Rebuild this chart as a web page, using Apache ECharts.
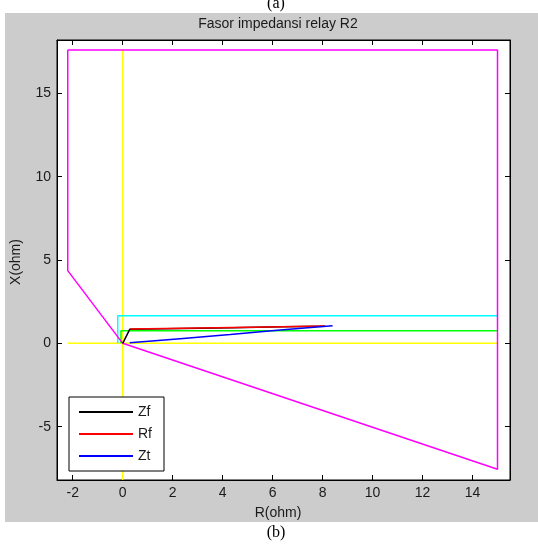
<!DOCTYPE html>
<html>
<head>
<meta charset="utf-8">
<script src="https://cdn.jsdelivr.net/npm/echarts@6/dist/echarts.min.js"></script>
<style>
  html, body { margin: 0; padding: 0; background: #fff; }
  #frame { position: absolute; left: 5px; top: 13px; width: 533px; height: 509px; background: #cccccc; }
  #chart { position: absolute; left: 0; top: 0; width: 538px; height: 545px; }
</style>
</head>
<body>
<div id="frame"></div>
<div id="chart"></div>
<script>
// axis ticks
var xTicks = [-2, 0, 2, 4, 6, 8, 10, 12, 14];
var yTicks = [-5, 0, 5, 10, 15];

// relay zone (magenta)
var relayZone = [[-2.2, 17.6], [15, 17.6], [15, -7.55], [0, 0], [-2.2, 4.36], [-2.2, 17.6]];
// reference axes (yellow)
var axisR = [[-2.2, 0], [15, 0]];
var axisX = [[0, 17.6], [0, -8.2]];
// other boundaries
var cyanZone = [[-0.2, 0], [-0.2, 1.66], [15, 1.66]];
var greenZone = [[-0.07, 0], [-0.07, 0.76], [15, 0.76]];

// impedance traces
var zf = [[0, 0], [0.28, 0.84], [2.4, 0.89], [4.4, 0.94], [6.4, 0.99], [8.1, 1.03]];
var rf = [[0.3, 0.86], [2.4, 0.9], [4.4, 0.95], [6.4, 1.0], [8.1, 1.04]];
var zt = [[0.28, 0.03], [2.3, 0.28], [4.3, 0.53], [6.3, 0.8], [8.4, 1.05]];

var chart = echarts.init(document.getElementById('chart'));

function lineSeries(name, data, color) {
  return {
    name: name,
    type: 'line',
    data: data,
    symbol: 'none',
    silent: true,
    animation: false,
    lineStyle: { color: color, width: 1.5 },
    itemStyle: { color: color }
  };
}

var font = 'Liberation Sans, Arial, sans-serif';
var txt = '#1a1a1a';
var tickStyle = { inside: true, length: 5, lineStyle: { color: '#000' } };

function xAxisOf(pos, showLabel) {
  return {
    type: 'value',
    position: pos,
    min: -2.63,
    max: 15.5,
    axisLine: { show: true, onZero: false, lineStyle: { color: '#000', width: 1 } },
    axisTick: Object.assign({ customValues: xTicks }, tickStyle),
    axisLabel: { show: showLabel, customValues: xTicks, color: txt, fontSize: 14, fontFamily: font, margin: 6 },
    splitLine: { show: false }
  };
}
function yAxisOf(pos, showLabel) {
  return {
    type: 'value',
    position: pos,
    min: -8.2,
    max: 18.2,
    axisLine: { show: true, onZero: false, lineStyle: { color: '#000', width: 1 } },
    axisTick: Object.assign({ customValues: yTicks }, tickStyle),
    axisLabel: { show: showLabel, customValues: yTicks, color: txt, fontSize: 14, fontFamily: font, margin: 6 },
    splitLine: { show: false }
  };
}

chart.setOption({
  backgroundColor: 'transparent',
  animation: false,
  grid: {
    left: 57, top: 40, right: 28, bottom: 65,
    show: true, backgroundColor: '#fff', borderColor: '#000', borderWidth: 1
  },
  xAxis: [xAxisOf('bottom', true), xAxisOf('top', false)],
  yAxis: [yAxisOf('left', true), yAxisOf('right', false)],
  legend: {
    data: ['Zf', 'Rf', 'Zt'],
    orient: 'vertical',
    left: 69,
    top: 397,
    padding: [7, 12, 7, 10],
    itemGap: 6,
    itemWidth: 54,
    itemHeight: 2,
    icon: 'rect',
    backgroundColor: '#fff',
    borderColor: '#000',
    borderWidth: 1,
    selectedMode: false,
    textStyle: { color: txt, fontSize: 14, fontFamily: font, lineHeight: 16 }
  },
  graphic: [
    { type: 'text', x: 278, y: 24, style: { text: 'Fasor impedansi relay R2', align: 'center', verticalAlign: 'middle', fill: txt, font: '14px ' + font } },
    { type: 'text', x: 278, y: 513, style: { text: 'R(ohm)', align: 'center', verticalAlign: 'middle', fill: txt, font: '14px ' + font } },
    { type: 'text', x: 16, y: 262, rotation: Math.PI / 2, style: { text: 'X(ohm)', align: 'center', verticalAlign: 'middle', fill: txt, font: '14px ' + font } },
    { type: 'text', x: 276, y: 4, style: { text: '(a)', align: 'center', verticalAlign: 'middle', fill: '#000', font: '16px Liberation Serif, Times New Roman, serif' } },
    { type: 'text', x: 276, y: 533, style: { text: '(b)', align: 'center', verticalAlign: 'middle', fill: '#000', font: '16px Liberation Serif, Times New Roman, serif' } }
  ],
  series: [
    lineSeries('axisR', axisR, '#ffff00'),
    lineSeries('axisX', axisX, '#ffff00'),
    lineSeries('cyan', cyanZone, '#00ffff'),
    lineSeries('green', greenZone, '#00ff00'),
    lineSeries('zone', relayZone, '#ff00ff'),
    lineSeries('Zf', zf, '#000000'),
    lineSeries('Rf', rf, '#ff0000'),
    lineSeries('Zt', zt, '#0000ff')
  ]
});
</script>
</body>
</html>
